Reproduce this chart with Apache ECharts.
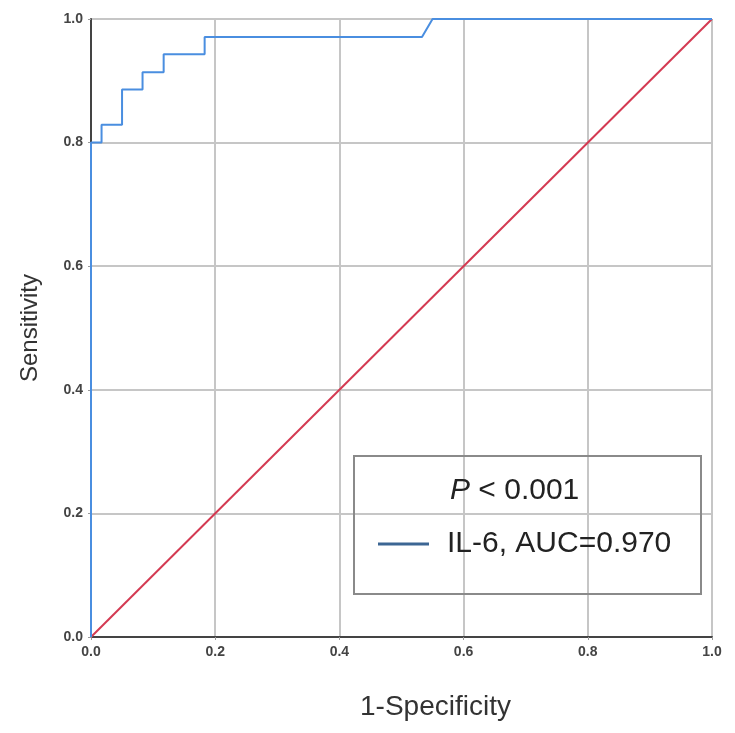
<!DOCTYPE html>
<html>
<head>
<meta charset="utf-8">
<script src="https://cdn.jsdelivr.net/npm/echarts@6/dist/echarts.min.js"></script>
<style>
  html, body { margin: 0; padding: 0; background: #fff; }
  #chart { width: 735px; height: 733px; }
</style>
</head>
<body>
<div id="chart"></div>
<script>
// ROC curve
const fpr = [0, 0, 0.017, 0.017, 0.05, 0.05, 0.083, 0.083, 0.117, 0.117, 0.183, 0.183, 0.533, 0.55, 1];
const tpr = [0, 0.8, 0.8, 0.829, 0.829, 0.886, 0.886, 0.914, 0.914, 0.943, 0.943, 0.971, 0.971, 1, 1];
const refLine = [[0, 0], [1, 1]];
const axisTicks = [0, 0.2, 0.4, 0.6, 0.8, 1.0];
const curveName = 'IL-6, AUC=0.970';
const pText = '< 0.001';

const FONT = 'Liberation Sans, Arial, sans-serif';
const chart = echarts.init(document.getElementById('chart'));

const rocPoints = fpr.map((x, i) => [x, tpr[i]]);

const axisCommon = {
  type: 'value',
  min: axisTicks[0],
  max: axisTicks[axisTicks.length - 1],
  interval: 0.2,
  axisLine: { show: true, lineStyle: { color: '#444', width: 2 } },
  axisTick: { show: true, length: 3, lineStyle: { color: '#999' } },
  axisLabel: {
    color: '#444',
    fontSize: 14,
    fontWeight: 'bold',
    fontFamily: FONT,
    formatter: v => v.toFixed(1)
  },
  splitLine: { show: true, lineStyle: { color: '#c6c6c6', width: 2 } }
};

chart.setOption({
  backgroundColor: '#fff',
  animation: false,
  grid: { left: 91, top: 19, width: 621, height: 618, outerBoundsMode: 'none', containLabel: false },
  xAxis: Object.assign({}, axisCommon, {
    name: '1-Specificity',
    nameLocation: 'middle',
    nameGap: 56,
    nameTextStyle: { color: '#333', fontSize: 28, fontFamily: FONT, padding: [0, 0, 0, 68] }
  }),
  yAxis: Object.assign({}, axisCommon, {
    name: 'Sensitivity',
    nameLocation: 'middle',
    nameGap: 49,
    nameTextStyle: { color: '#333', fontSize: 24, fontFamily: FONT }
  }),
  series: [
    {
      name: 'ref',
      type: 'line',
      data: refLine,
      symbol: 'none',
      lineStyle: { color: '#d43a52', width: 2 },
      z: 2
    },
    {
      name: curveName,
      type: 'line',
      data: rocPoints,
      symbol: 'none',
      lineStyle: { color: '#4a8ee0', width: 2 },
      z: 3
    }
  ],
  graphic: [
    {
      type: 'rect',
      left: 353, top: 455,
      shape: { width: 347, height: 138 },
      style: { fill: 'rgba(255,255,255,0)', stroke: '#8a8a8a', lineWidth: 2 },
      z: 10
    },
    {
      type: 'text',
      x: 450, y: 491,
      style: {
        text: '{i|P} ' + pText,
        rich: {
          i: { fontStyle: 'italic', fontSize: 30, fontFamily: FONT, fill: '#222' }
        },
        fontSize: 30,
        fontFamily: FONT,
        fill: '#222',
        verticalAlign: 'middle'
      },
      z: 11
    },
    {
      type: 'line',
      shape: { x1: 378, y1: 544, x2: 429, y2: 544 },
      style: { stroke: '#3c6694', lineWidth: 3 },
      z: 11
    },
    {
      type: 'text',
      x: 447, y: 544,
      style: {
        text: curveName,
        fontSize: 30,
        fontFamily: FONT,
        fill: '#222',
        verticalAlign: 'middle'
      },
      z: 11
    }
  ]
});
</script>
</body>
</html>
